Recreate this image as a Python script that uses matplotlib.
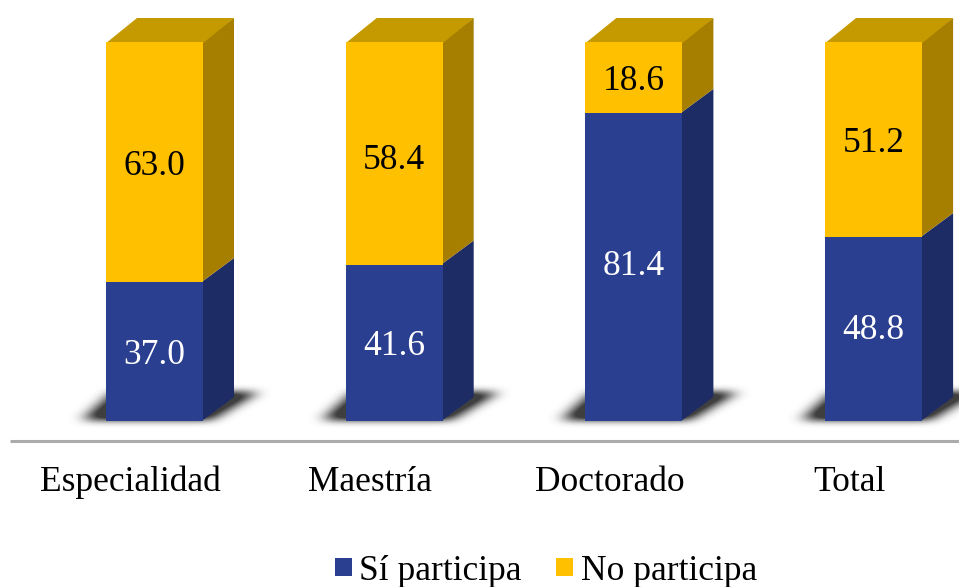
import numpy as np
import matplotlib
matplotlib.use("Agg")
import matplotlib.pyplot as plt
from matplotlib.patches import Polygon, Patch
from matplotlib.path import Path

categories = ["Especialidad", "Maestría", "Doctorado", "Total"]
si_participa = [37.0, 41.6, 81.4, 48.8]
no_participa = [63.0, 58.4, 18.6, 51.2]
series_names = ["Sí participa", "No participa"]

W, H = 959, 587
PX_X, PX_Y = 239.7, 3.81   # pixels per category / per percent
X0, Y0 = 154.5, 423        # pixel of category 0 and of value 0
BASE = 0.5                 # the drawn box starts slightly above value 0
BAR_W = 97 / PX_X
DX, DY = 31 / PX_X, 24 / PX_Y
LABEL_FS = 25.5
SI_NUDGE = [0, 0, 3, 1.5]      # label nudges, points
NO_NUDGE = [-1.5, -3, -0.7, -0.7]

BLUE = ("#2A3F8F", "#1E2C66", "#1E2C66")
GOLD = ("#FFC000", "#A67F00", "#C59A00")

plt.rcParams["font.family"] = ["Liberation Serif", "DejaVu Serif"]
fig = plt.figure(figsize=(W / 100, H / 100), dpi=100)
ax = fig.add_axes([0, 0, 1, 1])
ax.set_xlim(-X0 / PX_X, (W - X0) / PX_X)
ax.set_ylim((Y0 - H) / PX_Y, Y0 / PX_Y)
ax.axis("off")


def shadow(cx):
    xs = np.linspace(cx - BAR_W * 1.1, cx + BAR_W * 1.5, 250)
    ys = np.linspace(-8, 20, 107)
    gx, gy = np.meshgrid(xs, ys)
    l = cx - BAR_W / 2
    r = cx + BAR_W / 2
    poly = Path([(l - DX * 0.75, BASE + 0.1), (r + 0.03, BASE + 0.1), (r + DX + 0.1, BASE + DY * 1.2),
                 (l + 0.03, BASE + DY * 1.2)])
    m = poly.contains_points(np.c_[gx.ravel(), gy.ravel()]).reshape(gx.shape).astype(float)
    for _ in range(3):
        m = np.apply_along_axis(lambda v: np.convolve(v, np.ones(15) / 15, mode="same"), 1, m)
        m = np.apply_along_axis(lambda v: np.convolve(v, np.ones(7) / 7, mode="same"), 0, m)
    rgba = np.zeros(m.shape + (4,))
    rgba[..., :3] = 0.25
    rgba[..., 3] = np.clip(m * 1.35, 0, 1)
    ax.imshow(rgba, extent=(xs[0], xs[-1], ys[0], ys[-1]), origin="lower",
              aspect="auto", zorder=1, interpolation="bilinear")


def segment(cx, y0, y1, colors, top=False):
    l = cx - BAR_W / 2
    r = cx + BAR_W / 2
    ax.add_patch(Polygon([(r - 0.006, y0), (r + DX, y0 + DY), (r + DX, y1 + DY), (r - 0.006, y1)],
                         fc=colors[1], ec="none", zorder=2))
    ax.add_patch(Polygon([(l, y0), (r, y0), (r, y1), (l, y1)],
                         fc=colors[0], ec="none", zorder=4))
    if top:
        ax.add_patch(Polygon([(l, y1 - 0.3), (r, y1 - 0.3), (r + DX, y1 + DY), (l + DX, y1 + DY)],
                             fc=colors[2], ec="none", zorder=3))


for i, (a, b) in enumerate(zip(si_participa, no_participa)):
    shadow(i)
    segment(i, BASE, a, BLUE)
    segment(i, a, a + b, GOLD, top=True)
    ax.annotate(f"{a:.1f}", (i, a / 2), xytext=(0, -2 + SI_NUDGE[i]), textcoords="offset points",
                color="white", fontsize=LABEL_FS, ha="center", va="center", zorder=5)
    ax.annotate(f"{b:.1f}", (i, a + b / 2), xytext=(0, -2 + NO_NUDGE[i]), textcoords="offset points",
                color="black", fontsize=LABEL_FS, ha="center", va="center", zorder=5)
    ax.annotate(categories[i], (i, -15.5), xytext=(-17.5, 0), textcoords="offset points",
                color="black", fontsize=LABEL_FS, ha="center", va="center", zorder=5)

ax.plot([-(X0 - 10) / PX_X, (W - X0) / PX_X], [-4.6, -4.6], color="#ABABAB", lw=2.2,
        solid_capstyle="butt", zorder=1)

handles = [Patch(fc=BLUE[0], ec="none"), Patch(fc=GOLD[0], ec="none")]
ax.legend(handles, series_names, loc="center", bbox_to_anchor=(546 / W, 1 - 571 / H),
          ncol=2, frameon=False, fontsize=LABEL_FS, handlelength=0.48, handleheight=0.42,
          handletextpad=0.2, columnspacing=0.98, borderpad=0)

fig.savefig("out.png", dpi=100)
